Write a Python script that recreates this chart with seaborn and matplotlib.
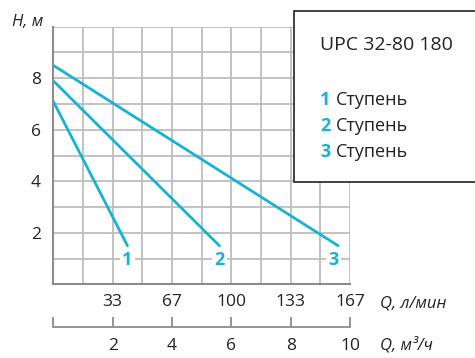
import matplotlib
matplotlib.use("Agg")
import matplotlib.pyplot as plt
from matplotlib.patches import Rectangle
import pandas as pd
import seaborn as sns

# Pump curves: flow Q (m3/h) vs head H (m) for each stage
stage1_q = [0.0, 2.5]
stage1_h = [7.1, 1.5]
stage2_q = [0.0, 5.6]
stage2_h = [7.9, 1.5]
stage3_q = [0.0, 9.6]
stage3_h = [8.5, 1.5]
stage_names = ["1", "2", "3"]

h_ticks = [2, 4, 6, 8]
q_ticks = [2, 4, 6, 8, 10]
lpm_labels = ["33", "67", "100", "133", "167"]
m3h_labels = ["2", "4", "6", "8", "10"]

model_name = "UPC 32-80 180"
stage_word = "Ступень"

CYAN = "#16b2d9"
GRID = "#bdbdbd"
SPINE = "#8c8c8c"

rows = []
for name, qs, hs in zip(stage_names, [stage1_q, stage2_q, stage3_q],
                        [stage1_h, stage2_h, stage3_h]):
    for q, h in zip(qs, hs):
        rows.append({"stage": name, "Q": q, "H": h})
df = pd.DataFrame(rows)

sns.set_style("white")
plt.rcParams["font.family"] = ["Open Sans", "DejaVu Sans"]
plt.rcParams["font.size"] = 12

fig = plt.figure(figsize=(4.75, 3.58), dpi=100)
W, H = 475, 358
ax = fig.add_axes([53.3 / W, 1 - 284.4 / H, (350 - 53.3) / W, (284.4 - 26.7) / H])

sns.lineplot(data=df, x="Q", y="H", units="stage", estimator=None,
             color=CYAN, lw=2.0, ax=ax, zorder=3, legend=False)

ax.set_xlim(0, 10)
ax.set_ylim(0, 10)
ax.set_xticks(q_ticks)
ax.set_xticklabels(lpm_labels)
ax.set_yticks(h_ticks)
ax.set_yticklabels([str(v) for v in h_ticks])
ax.set_xticks(range(0, 11), minor=True)
ax.set_yticks(range(0, 11), minor=True)
ax.grid(which="both", color=GRID, lw=1.3, zorder=0)
ax.set_axisbelow(True)

ax.tick_params(axis="both", which="both", length=0, labelsize=12.5, colors="#222222")
ax.tick_params(axis="x", pad=7)
ax.tick_params(axis="y", pad=9)
ax.set_xlabel("")
ax.set_ylabel("")

for side in ["top", "right"]:
    ax.spines[side].set_visible(False)
for side in ["left", "bottom"]:
    ax.spines[side].set_color(SPINE)
    ax.spines[side].set_linewidth(1.5)
    ax.spines[side].set_zorder(4)

# Stage numbers at the ends of the curves
ends_q = [stage1_q[-1], stage2_q[-1], stage3_q[-1] - 0.15]
for name, q in zip(stage_names, ends_q):
    ax.text(q, 0.93, name, color=CYAN, fontsize=13, fontweight="bold",
            ha="center", va="center", zorder=5,
            bbox=dict(boxstyle="square,pad=0.12", fc="white", ec="none"))

# Second flow scale in m3/h
sec = ax.secondary_xaxis(-(326.7 - 284.4) / (284.4 - 26.7))
sec.set_xticks([0] + q_ticks)
sec.set_xticklabels([""] + m3h_labels)
sec.tick_params(axis="x", direction="in", length=7, width=1.3, color=SPINE,
                labelsize=12.5, labelcolor="#222222", pad=8)
sec.spines["bottom"].set_color(SPINE)
sec.spines["bottom"].set_linewidth(1.3)

# Axis titles
fig.text(12 / W, 1 - 22 / H, "H, м", style="italic", fontsize=12,
         ha="left", va="center", color="#222222")
fig.text(380 / W, 1 - 303 / H, "Q, л/мин", style="italic", fontsize=12,
         ha="left", va="center", color="#222222")
fig.text(380 / W, 1 - 345 / H, "Q, м³/ч", style="italic", fontsize=12,
         ha="left", va="center", color="#222222")

# Model / legend box
box = Rectangle((294 / W, 1 - 182 / H), (490 - 294) / W, (182 - 11) / H,
                transform=fig.transFigure, fc="white", ec="#222222", lw=1.2,
                zorder=10, clip_on=False)
fig.add_artist(box)
fig.text(320 / W, 1 - 45 / H, model_name, fontsize=14, ha="left",
         va="center", color="#222222", zorder=11)
for i, name in enumerate(stage_names):
    y = 1 - (100 + 26 * i) / H
    fig.text(320 / W, y, name, color=CYAN, fontsize=13, fontweight="bold",
             ha="left", va="center", zorder=11)
    fig.text(336 / W, y, stage_word, color="#222222", fontsize=13,
             ha="left", va="center", zorder=11)

fig.savefig("out.png", dpi=100)
